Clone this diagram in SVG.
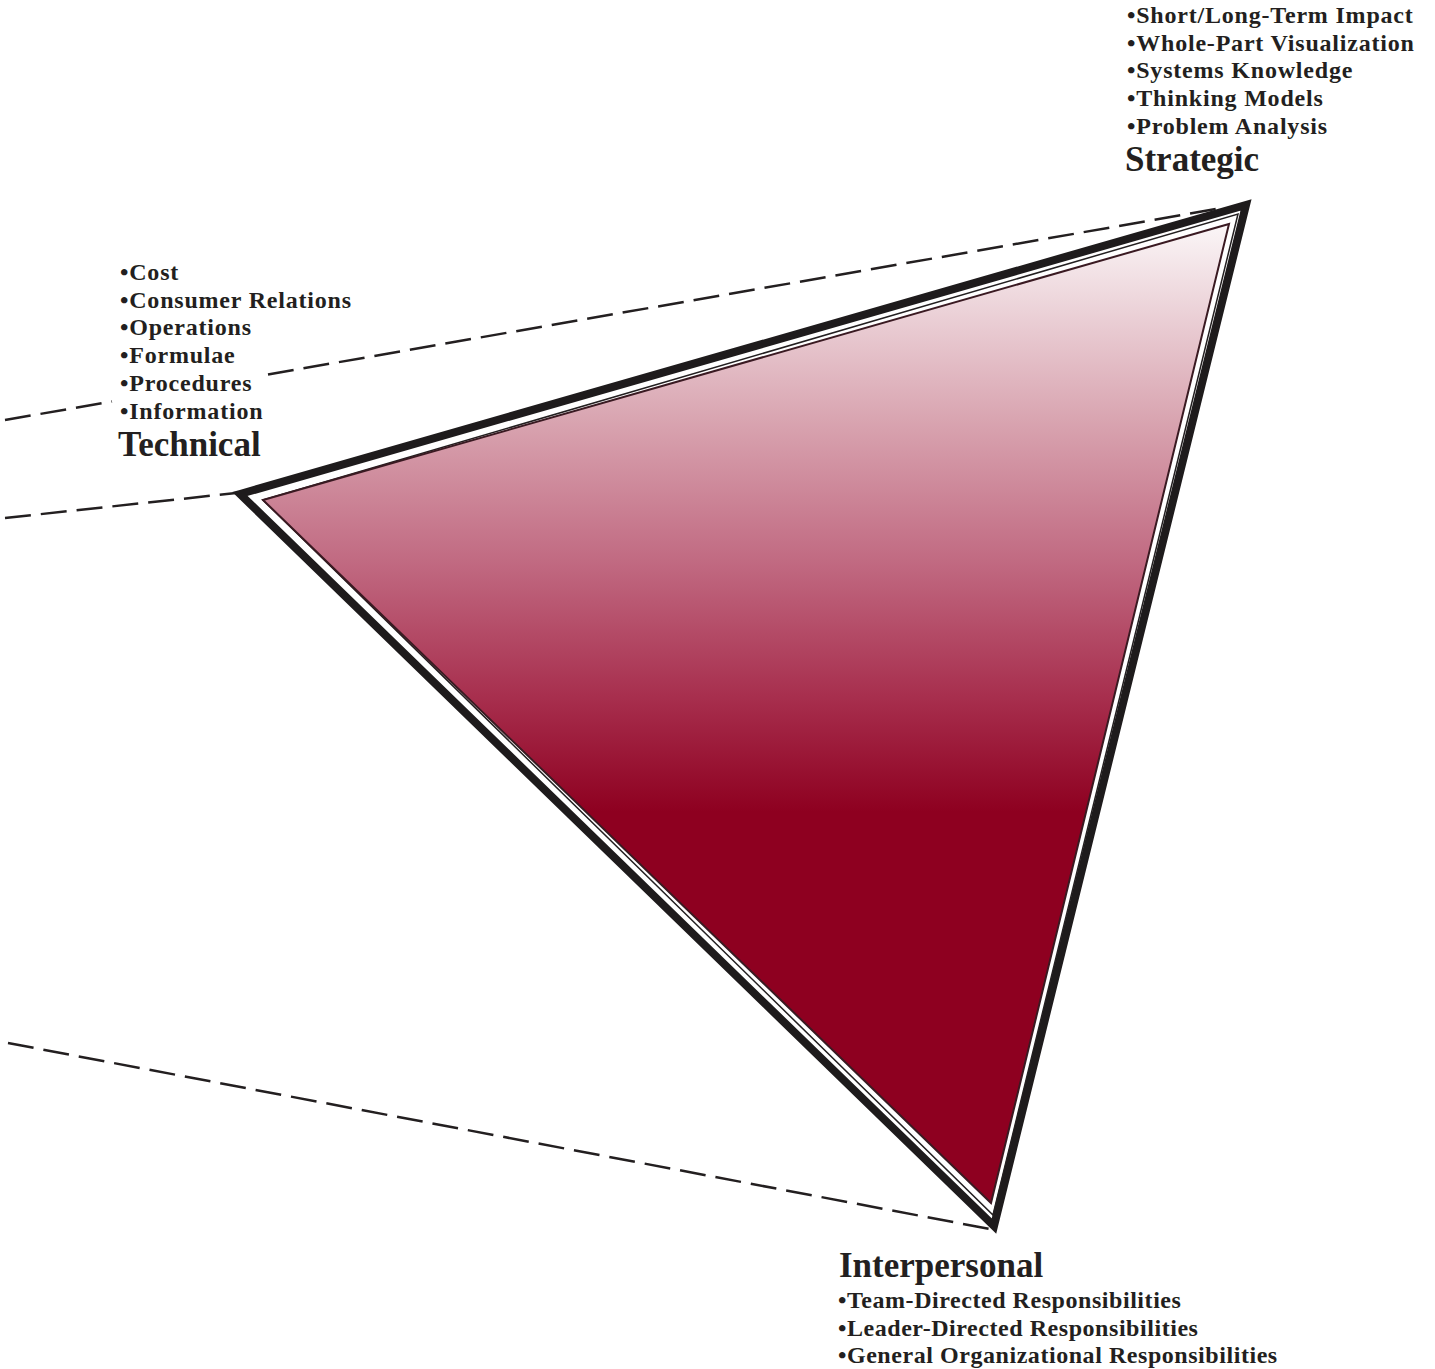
<svg xmlns="http://www.w3.org/2000/svg" width="1435" height="1369" viewBox="0 0 1435 1369">
<style>
.item{font-family:"Liberation Serif","Times New Roman",serif;font-weight:bold;font-size:24px;letter-spacing:0.8px;fill:#231f20}
.narrow{letter-spacing:0.55px}
.head{font-family:"Liberation Serif","Times New Roman",serif;font-weight:bold;font-size:35px;fill:#231f20}
.dash{stroke:#231f20;stroke-width:2.5;stroke-dasharray:26 10;fill:none}
</style>
<defs>
<linearGradient id="g" gradientUnits="userSpaceOnUse" x1="0" y1="222" x2="0" y2="1205">
<stop offset="0" stop-color="#fbf7f8"/>
<stop offset="0.2" stop-color="#d9a5b1"/>
<stop offset="0.35" stop-color="#c06880"/>
<stop offset="0.48" stop-color="#a8304f"/>
<stop offset="0.6" stop-color="#8e0020"/>
<stop offset="1" stop-color="#8e0020"/>
</linearGradient>
</defs>
<rect width="1435" height="1369" fill="#fff"/>
<g id="connectors">
<path class="dash" d="M5 420 L112 401.5"/>
<path class="dash" d="M268 374.5 L1222 208"/>
<path class="dash" d="M5 518 L236 493"/>
<path class="dash" d="M8 1043 L995 1230"/>
</g>
<g id="triangle">
<path d="M240 494 L1246 205 L994 1226 Z" fill="#fff" stroke="#1e1b1c" stroke-width="8" stroke-linejoin="miter" stroke-miterlimit="20"/>
<path d="M263 500 L1238 214 L993 1215 Z" fill="none" stroke="#231f20" stroke-width="1.5"/>
<path d="M263 500 L1229 224 L991 1203 Z" fill="url(#g)" stroke="#3a1a22" stroke-width="2"/>
</g>
<g id="technical">
<text class="item" x="120" y="280">•Cost</text>
<text class="item" x="120" y="308">•Consumer Relations</text>
<text class="item" x="120" y="335">•Operations</text>
<text class="item" x="120" y="363">•Formulae</text>
<text class="item" x="120" y="391">•Procedures</text>
<text class="item" x="120" y="419">•Information</text>
<text class="head" x="118" y="456">Technical</text>
</g>
<g id="strategic">
<text class="item" x="1127" y="23">•Short/Long-Term Impact</text>
<text class="item" x="1127" y="51">•Whole-Part Visualization</text>
<text class="item" x="1127" y="78">•Systems Knowledge</text>
<text class="item" x="1127" y="106">•Thinking Models</text>
<text class="item" x="1127" y="134">•Problem Analysis</text>
<text class="head" x="1125" y="171">Strategic</text>
</g>
<g id="interpersonal">
<text class="head" x="839" y="1277">Interpersonal</text>
<text class="item narrow" x="838" y="1308">•Team-Directed Responsibilities</text>
<text class="item narrow" x="838" y="1336">•Leader-Directed Responsibilities</text>
<text class="item narrow" x="838" y="1363">•General Organizational Responsibilities</text>
</g>
</svg>
